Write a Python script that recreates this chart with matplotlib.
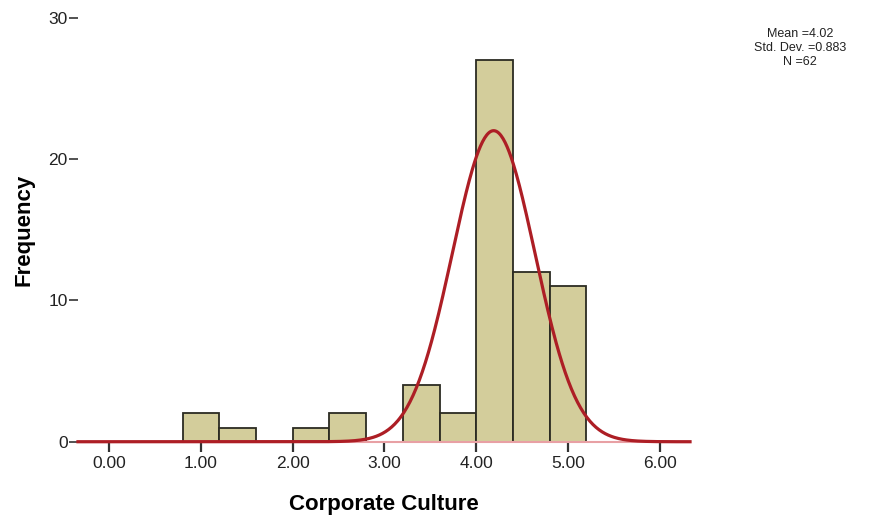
import numpy as np
import matplotlib.pyplot as plt

plt.rcParams["font.family"] = ["Liberation Sans", "DejaVu Sans"]

# histogram bins (width 0.4) and counts
bin_edges = [0.8, 1.2, 1.6, 2.0, 2.4, 2.8, 3.2, 3.6, 4.0, 4.4, 4.8, 5.2]
counts = [2, 1, 0, 1, 2, 0, 4, 2, 27, 12, 11]

# fitted normal curve as drawn
curve_center = 4.19
curve_sd = 0.45
curve_peak = 22.0

stats_lines = ["Mean =4.02", "Std. Dev. =0.883", "N =62"]
x_ticks = [0, 1, 2, 3, 4, 5, 6]
y_ticks = [0, 10, 20, 30]

fig = plt.figure(figsize=(8.75, 5.17), dpi=100)
ax = fig.add_axes([0.0891, 0.1456, 0.6995, 0.8204])

lefts = np.array(bin_edges[:-1])
widths = np.diff(bin_edges)
ax.bar(lefts, counts, width=widths, align="edge", color="#d3cd9b",
       edgecolor="#2b2b22", linewidth=1.3, zorder=2)

xs = np.linspace(-0.34, 6.33, 600)
ys = curve_peak * np.exp(-0.5 * ((xs - curve_center) / curve_sd) ** 2)
ax.plot(xs, ys, color="#ad1e25", linewidth=2.3, zorder=3, clip_on=False)

ax.set_xlim(-0.34, 6.33)
ax.set_ylim(0, 30)

for side in ["top", "right", "left"]:
    ax.spines[side].set_visible(False)
ax.spines["bottom"].set_color("#e8a0a4")
ax.spines["bottom"].set_linewidth(1.5)

ax.set_xticks(x_ticks)
ax.set_xticklabels([f"{t:.2f}" for t in x_ticks])
ax.set_yticks(y_ticks)
ax.tick_params(axis="x", length=7, width=1.6, color="#333333", pad=3,
               labelsize=12.5, labelcolor="#222222")
ax.tick_params(axis="y", length=6.5, width=1.2, color="#333333", pad=1,
               labelsize=12.5, labelcolor="#222222")

ax.set_xlabel("Corporate Culture", fontsize=16, fontweight="bold", labelpad=17)
ax.set_ylabel("Frequency", fontsize=16, fontweight="bold", labelpad=10)

for i, line in enumerate(stats_lines):
    fig.text(0.914, 0.935 - i * 0.0275, line, ha="center", va="center",
             fontsize=9, color="#222222")

fig.savefig("out.png", dpi=100)
